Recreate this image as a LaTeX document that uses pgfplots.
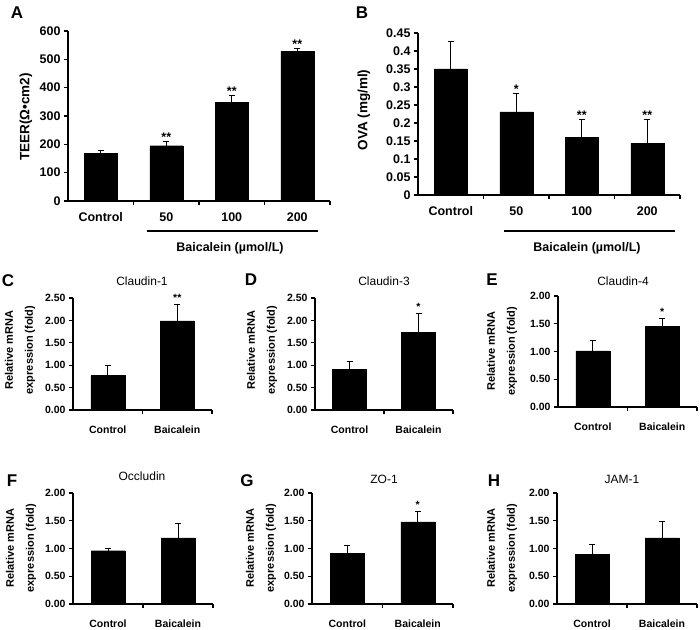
\documentclass[border=0pt]{standalone}
\usepackage{pgfplots}
\pgfplotsset{compat=1.18}
\usepackage{fontspec}
\setmainfont{Liberation Sans}
\newcommand\fA{\fontsize{12.5}{14}\selectfont\bfseries}
\newcommand\fAY{\fontsize{13.5}{15}\selectfont\bfseries}
\newcommand\fC{\fontsize{10.5}{12}\selectfont\bfseries}
\newcommand\fY{\fontsize{11}{20}\selectfont\bfseries}
\newcommand\fT{\fontsize{12}{14}\selectfont}
\newcommand\fL{\fontsize{17}{20}\selectfont\bfseries}
\pgfplotsset{
  barpanel/.style={
    scale only axis, anchor=south west,
    axis x line*=bottom, axis y line*=left,
    axis line style={line width=1.2pt},
    xmin=-0.5, ymin=0,
    tick align=outside,
    major tick length=4pt,
    tick style={black, line width=1.2pt},
    xticklabels={},
    clip=false,
    ybar,
    /pgf/number format/assume math mode=true,
  },
  apanel/.style={barpanel, xmax=3.5, bar width=33pt,
    xtick={0.5,1.5,2.5,3.5}, extra x ticks={0,1,2,3},
    extra x tick labels={Control,50,100,200},
    extra x tick style={major tick length=0pt, tick label style={yshift=-8pt}},
    tick label style={font=\fA}, axis line style={line width=1.5pt},
    tick style={black, line width=1.5pt}},
  cpanel/.style={barpanel, xmax=1.5, bar width=34pt,
    xtick={0.5,1.5}, extra x ticks={0,1},
    extra x tick labels={Control,Baicalein},
    extra x tick style={major tick length=0pt, tick label style={yshift=-12pt}},
    tick label style={font=\fC}},
  cy25/.style={ymax=2.5, ytick={0,0.5,1,1.5,2,2.5},
    yticklabels={0.00,0.50,1.00,1.50,2.00,2.50}},
  cy20/.style={ymax=2, ytick={0,0.5,1,1.5,2},
    yticklabels={0.00,0.50,1.00,1.50,2.00}},
  errbar/.style={fill=black, draw=black,
    error bars/.cd, y dir=plus, y explicit,
    error bar style={line width=0.9pt, black},
    error mark options={rotate=90, line width=0.9pt, mark size=3pt, black}},
}
\begin{document}
\begin{tikzpicture}[x=1pt,y=1pt]
\useasboundingbox (0,0) rectangle (700,629);

% ---------------- A ----------------
\begin{axis}[apanel, at={(68pt,428pt)}, width=262pt, height=170pt,
  ymax=600, ytick={0,100,200,300,400,500,600}]
\addplot[errbar] table[x=x,y=y,y error=e] {
x y e
0 168 9
1 195 16
2 348 24
3 529 10
};
\node[font=\fA, anchor=base] at (axis cs:1,211) {**};
\node[font=\fA, anchor=base] at (axis cs:2,372) {**};
\node[font=\fA, anchor=base] at (axis cs:3,539) {**};
\end{axis}
\node[font=\fL] at (17,616) {A};
\node[font=\fAY, rotate=90] at (26,512) {TEER(Ω•cm2)};
\draw[line width=1.5pt] (147,398) -- (318,398);
\node[font=\fA] at (230,381) {Baicalein (µmol/L)};

% ---------------- B ----------------
\begin{axis}[apanel, at={(418pt,434pt)}, width=262pt, height=162pt,
  ymax=0.45, ytick={0,0.05,0.1,0.15,0.2,0.25,0.3,0.35,0.4,0.45},
  yticklabels={0,0.05,0.1,0.15,0.2,0.25,0.3,0.35,0.4,0.45}]
\addplot[errbar] table[x=x,y=y,y error=e] {
x y e
0 0.350 0.076
1 0.231 0.050
2 0.160 0.050
3 0.144 0.066
};
\node[font=\fA, anchor=base] at (axis cs:1,0.281) {*};
\node[font=\fA, anchor=base] at (axis cs:2,0.210) {**};
\node[font=\fA, anchor=base] at (axis cs:3,0.210) {**};
\end{axis}
\node[font=\fL] at (362,616) {B};
\node[font=\fAY, rotate=90] at (364,519) {OVA (mg/ml)};
\draw[line width=1.5pt] (504,398) -- (675,398);
\node[font=\fA] at (587,381) {Baicalein (µmol/L)};

% ---------------- C ----------------
\begin{axis}[cpanel, cy25, at={(73pt,219pt)}, width=139pt, height=112pt]
\addplot[errbar] table[x=x,y=y,y error=e] {
x y e
0 0.77 0.23
1 1.99 0.37
};
\node[font=\fC, anchor=base, yshift=3pt] at (axis cs:1,2.36) {**};
\end{axis}
\node[font=\fL] at (8,348) {C};
\node[font=\fT] at (142,348) {Claudin-1};
\node[font=\fY, rotate=90, align=center] at (20,279) {Relative mRNA\\expression (fold)};

% ---------------- D ----------------
\begin{axis}[cpanel, cy25, at={(315pt,219pt)}, width=138pt, height=112pt]
\addplot[errbar] table[x=x,y=y,y error=e] {
x y e
0 0.91 0.17
1 1.73 0.43
};
\node[font=\fC, anchor=base, yshift=3pt] at (axis cs:1,2.16) {*};
\end{axis}
\node[font=\fL] at (251,349) {D};
\node[font=\fT] at (384,348) {Claudin-3};
\node[font=\fY, rotate=90, align=center] at (262,279) {Relative mRNA\\expression (fold)};

% ---------------- E ----------------
\begin{axis}[cpanel, cy20, at={(558pt,222pt)}, width=139pt, height=111pt]
\addplot[errbar] table[x=x,y=y,y error=e] {
x y e
0 1.01 0.19
1 1.45 0.15
};
\node[font=\fC, anchor=base, yshift=3pt] at (axis cs:1,1.60) {*};
\end{axis}
\node[font=\fL] at (492,349) {E};
\node[font=\fT] at (623,348) {Claudin-4};
\node[font=\fY, rotate=90, align=center] at (502,278) {Relative mRNA\\expression (fold)};

% ---------------- F ----------------
\begin{axis}[cpanel, cy20, at={(73pt,25pt)}, width=140pt, height=111pt]
\addplot[errbar] table[x=x,y=y,y error=e] {
x y e
0 0.96 0.04
1 1.19 0.26
};
\end{axis}
\node[font=\fL] at (12,148) {F};
\node[font=\fT] at (142,153) {Occludin};
\node[font=\fY, rotate=90, align=center] at (21,81) {Relative mRNA\\expression (fold)};

% ---------------- G ----------------
\begin{axis}[cpanel, cy20, at={(312pt,25pt)}, width=141pt, height=111pt]
\addplot[errbar] table[x=x,y=y,y error=e] {
x y e
0 0.91 0.14
1 1.48 0.19
};
\node[font=\fC, anchor=base, yshift=3pt] at (axis cs:1,1.67) {*};
\end{axis}
\node[font=\fL] at (247,148) {G};
\node[font=\fT] at (384,150) {ZO-1};
\node[font=\fY, rotate=90, align=center] at (261,81) {Relative mRNA\\expression (fold)};

% ---------------- H ----------------
\begin{axis}[cpanel, cy20, at={(557pt,25pt)}, width=140pt, height=111pt]
\addplot[errbar] table[x=x,y=y,y error=e] {
x y e
0 0.90 0.17
1 1.19 0.29
};
\end{axis}
\node[font=\fL] at (494,148) {H};
\node[font=\fT] at (622,150) {JAM-1};
\node[font=\fY, rotate=90, align=center] at (502,81) {Relative mRNA\\expression (fold)};
\end{tikzpicture}
\end{document}
